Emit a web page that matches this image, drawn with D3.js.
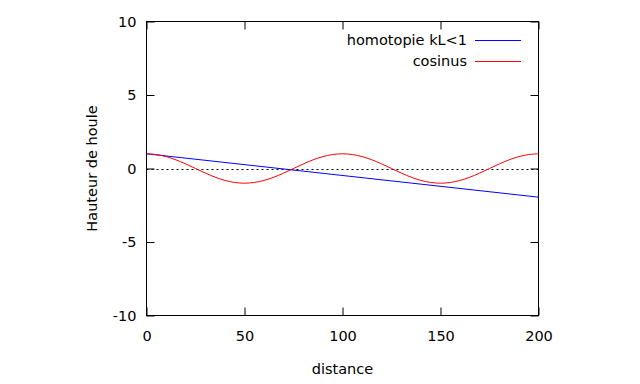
<!DOCTYPE html>
<html><head><meta charset="utf-8">
<script src="https://cdn.jsdelivr.net/npm/d3@7"></script>
<style>body{margin:0;background:#fff;} text{font-family:"DejaVu Sans",Verdana,sans-serif;font-size:14.5px;fill:#000;}</style>
</head><body>
<svg id="c" width="640" height="384"></svg>
<script>
const xTicks = [0, 50, 100, 150, 200];
const yTicks = [-10, -5, 0, 5, 10];
const seriesNames = ["homotopie kL<1", "cosinus"];
const seriesColors = ["#0000ff", "#ff0000"];
const homotopieX = [0, 200];
const homotopieY = [1, -1.95];
const cosX = [0,5,10,15,20,25,30,35,40,45,50,55,60,65,70,75,80,85,90,95,100,105,110,115,120,125,130,135,140,145,150,155,160,165,170,175,180,185,190,195,200];
const cosY = [1,0.95,0.81,0.59,0.31,0,-0.31,-0.59,-0.81,-0.95,-1,-0.95,-0.81,-0.59,-0.31,0,0.31,0.59,0.81,0.95,1,0.95,0.81,0.59,0.31,0,-0.31,-0.59,-0.81,-0.95,-1,-0.95,-0.81,-0.59,-0.31,0,0.31,0.59,0.81,0.95,1];

const svg = d3.select("#c");
const L = 146.5, R = 538.5, T = 21.5, B = 315.5;
const x = d3.scaleLinear().domain([0, 200]).range([L, R]);
const y = d3.scaleLinear().domain([-10, 10]).range([B, T]);
const fmt = d => String(d);

// zero dotted line
svg.append("line").attr("x1", L).attr("x2", R).attr("y1", Math.round(y(0)) + 0.5).attr("y2", Math.round(y(0)) + 0.5)
  .attr("stroke", "#000").attr("stroke-width", 1).attr("stroke-dasharray", "2,3");

// axes with inward ticks
const tl = 8;
svg.append("g").attr("transform", `translate(0,${B})`)
  .call(d3.axisBottom(x).tickValues(xTicks).tickSize(-tl).tickPadding(tl + 7).tickFormat(fmt))
  .call(g => { g.select(".domain").remove(); g.selectAll("text").style("font-size", "14.5px"); });
svg.append("g").attr("transform", `translate(0,${T})`)
  .call(d3.axisTop(x).tickValues(xTicks).tickSize(-tl).tickFormat(""))
  .call(g => g.select(".domain").remove());
svg.append("g").attr("transform", `translate(${L},0)`)
  .call(d3.axisLeft(y).tickValues(yTicks).tickSize(-tl).tickPadding(tl + 2).tickFormat(fmt))
  .call(g => { g.select(".domain").remove(); g.selectAll("text").style("font-size", "14.5px"); });
svg.append("g").attr("transform", `translate(${R},0)`)
  .call(d3.axisRight(y).tickValues(yTicks).tickSize(-tl).tickFormat(""))
  .call(g => g.select(".domain").remove());

// border
svg.append("rect").attr("x", L).attr("y", T).attr("width", R - L).attr("height", B - T)
  .attr("fill", "none").attr("stroke", "#000").attr("stroke-width", 1);

// clip
svg.append("clipPath").attr("id", "clip").append("rect").attr("x", L).attr("y", T).attr("width", R - L).attr("height", B - T);

const line = d3.line().x(d => x(d[0])).y(d => y(d[1]));
svg.append("path").datum(homotopieX.map((v, i) => [v, homotopieY[i]]))
  .attr("d", line).attr("fill", "none").attr("stroke", seriesColors[0]).attr("stroke-width", 1).attr("clip-path", "url(#clip)");
svg.append("path").datum(cosX.map((v, i) => [v, cosY[i]]))
  .attr("d", line.curve(d3.curveCatmullRom)).attr("fill", "none").attr("stroke", seriesColors[1]).attr("stroke-width", 1).attr("clip-path", "url(#clip)");

// legend
const leg = svg.append("g");
seriesNames.forEach((n, i) => {
  const yy = 40 + i * 21;
  leg.append("text").attr("x", 467).attr("y", yy).attr("text-anchor", "end").attr("dy", "0.35em").text(n);
  leg.append("line").attr("x1", 475).attr("x2", 521).attr("y1", yy + 0.5).attr("y2", yy + 0.5)
    .attr("stroke", seriesColors[i]).attr("stroke-width", 1);
});

// axis titles
svg.append("text").attr("x", x(100)).attr("y", 374).attr("text-anchor", "middle").text("distance");
svg.append("text").attr("transform", `translate(97,${(T + B) / 2}) rotate(-90)`).attr("text-anchor", "middle").text("Hauteur de houle");
</script>
</body></html>
